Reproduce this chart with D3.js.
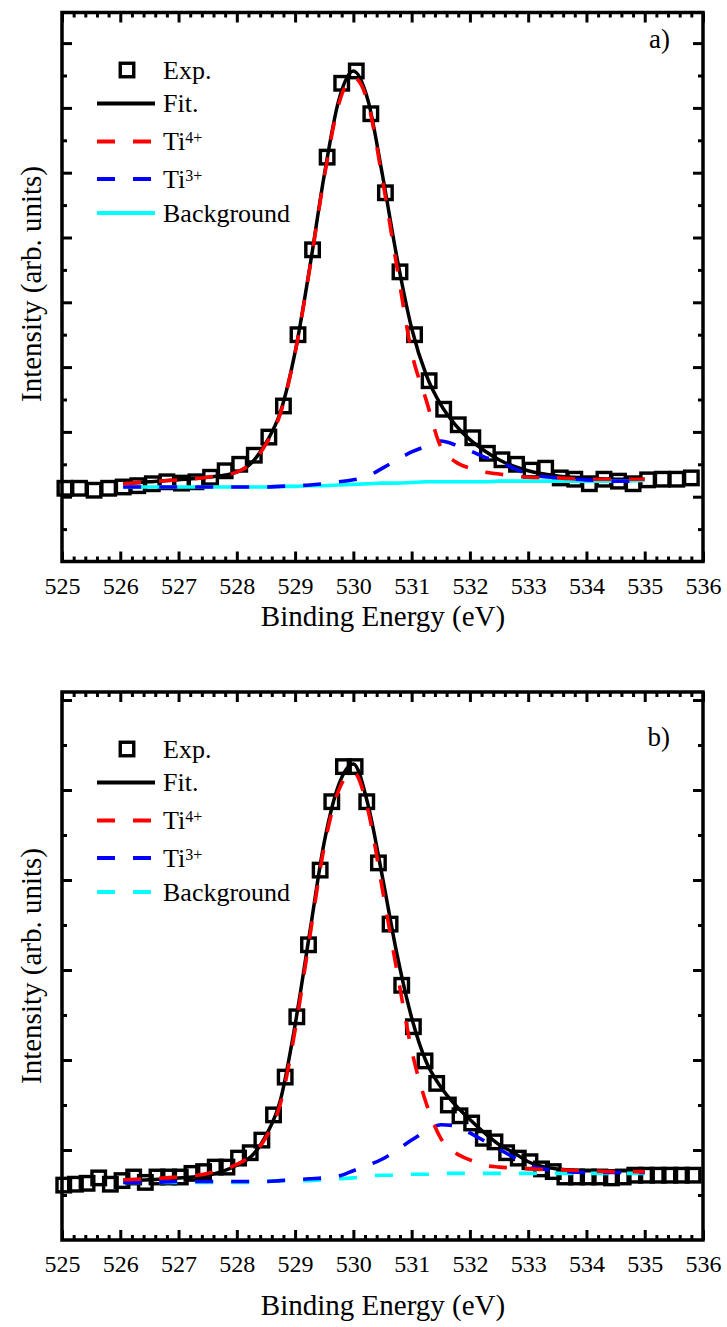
<!DOCTYPE html>
<meta charset="utf-8">
<style>
    body { margin: 0; background: #fff; }
    svg text { font-family: "Liberation Serif", "DejaVu Serif", serif; fill: #000; }
</style>
<svg width="727" height="1327"></svg>
<script src="https://d3js.org/d3.v7.min.js"></script>
<script>

    // x ticks (binding energy, eV)
    var xTicks = [525, 526, 527, 528, 529, 530, 531, 532, 533, 534, 535, 536];

    // panel a) experimental points
    var expEa = [525.05, 525.30, 525.55, 525.80, 526.05, 526.30, 526.55, 526.80, 527.05, 527.30,
        527.55, 527.80, 528.05, 528.30, 528.55, 528.80, 529.05, 529.30, 529.55, 529.80,
        530.05, 530.30, 530.55, 530.80, 531.05, 531.30, 531.55, 531.80, 532.05, 532.30,
        532.55, 532.80, 533.05, 533.30, 533.55, 533.80, 534.05, 534.30, 534.55, 534.80,
        535.05, 535.30, 535.55, 535.80];
    var expIa = [1.13, 1.13, 1.10, 1.13, 1.15, 1.17, 1.20, 1.23, 1.21, 1.23,
        1.30, 1.40, 1.50, 1.64, 1.92, 2.40, 3.50, 4.81, 6.24, 7.38,
        7.57, 6.91, 5.69, 4.47, 3.50, 2.79, 2.35, 2.11, 1.91, 1.67,
        1.57, 1.50, 1.41, 1.44, 1.29, 1.27, 1.20, 1.27, 1.24, 1.20,
        1.26, 1.27, 1.27, 1.29];

    var fitE = [526.05, 526.5, 527, 527.5, 528, 528.25, 528.5, 528.75, 529, 529.25,
        529.5, 529.75, 530, 530.25, 530.5, 530.75, 531, 531.25, 531.5, 531.75,
        532, 532.25, 532.5, 532.75, 533, 533.5, 534, 534.5, 535];

    // panel a) fit and components
    var fitA = [1.20, 1.23, 1.26, 1.30, 1.38, 1.52, 1.83, 2.31, 3.23, 4.53,
        5.96, 7.12, 7.57, 7.12, 5.96, 4.68, 3.60, 2.88, 2.42, 2.11,
        1.88, 1.71, 1.57, 1.47, 1.40, 1.32, 1.29, 1.27, 1.27];
    var ti4A = [1.20, 1.23, 1.26, 1.30, 1.38, 1.52, 1.81, 2.29, 3.22, 4.51,
        5.93, 7.06, 7.47, 7.08, 5.89, 4.53, 3.23, 2.49, 1.77, 1.54,
        1.44, 1.38, 1.35, 1.32, 1.30, 1.29, 1.27, 1.27, 1.27];
    var ti3A = [1.15, 1.15, 1.15, 1.15, 1.15, 1.15, 1.15, 1.16, 1.17, 1.18,
        1.20, 1.23, 1.26, 1.32, 1.44, 1.57, 1.69, 1.78, 1.86, 1.80,
        1.71, 1.61, 1.54, 1.44, 1.35, 1.29, 1.26, 1.24, 1.24];
    var bgA = [1.15, 1.15, 1.15, 1.15, 1.15, 1.15, 1.15, 1.16, 1.16, 1.17,
        1.17, 1.18, 1.19, 1.20, 1.21, 1.21, 1.22, 1.23, 1.23, 1.23,
        1.23, 1.23, 1.24, 1.24, 1.24, 1.24, 1.24, 1.24, 1.25];

    // panel b) experimental points
    var expEb = [525.03, 525.23, 525.43, 525.63, 525.83, 526.03, 526.23, 526.43, 526.63, 526.83,
        527.03, 527.23, 527.43, 527.63, 527.83, 528.03, 528.23, 528.43, 528.63, 528.83,
        529.03, 529.23, 529.43, 529.63, 529.83, 530.03, 530.23, 530.43, 530.63, 530.83,
        531.03, 531.23, 531.43, 531.63, 531.83, 532.03, 532.23, 532.43, 532.63, 532.83,
        533.03, 533.23, 533.43, 533.63, 533.83, 534.03, 534.23, 534.43, 534.63, 534.83,
        535.03, 535.23, 535.43, 535.63, 535.83];
    var expIb = [0.61, 0.62, 0.63, 0.69, 0.62, 0.66, 0.70, 0.64, 0.70, 0.70,
        0.70, 0.74, 0.76, 0.81, 0.81, 0.91, 0.97, 1.11, 1.39, 1.81,
        2.48, 3.28, 4.11, 4.87, 5.26, 5.26, 4.87, 4.19, 3.51, 2.83,
        2.37, 1.99, 1.74, 1.50, 1.38, 1.30, 1.13, 1.09, 0.97, 0.91,
        0.87, 0.79, 0.76, 0.70, 0.70, 0.70, 0.70, 0.69, 0.70, 0.72,
        0.72, 0.72, 0.72, 0.72, 0.72];

    // panel b) fit and components
    var fitB = [0.66, 0.67, 0.69, 0.72, 0.83, 0.93, 1.16, 1.56, 2.39, 3.41,
        4.42, 5.06, 5.29, 4.84, 4.03, 3.17, 2.47, 1.98, 1.70, 1.50,
        1.34, 1.19, 1.06, 0.97, 0.87, 0.79, 0.77, 0.77, 0.77];
    var ti4B = [0.67, 0.68, 0.70, 0.74, 0.84, 0.94, 1.14, 1.52, 2.33, 3.36,
        4.37, 5.00, 5.20, 4.78, 3.89, 2.98, 2.11, 1.52, 1.13, 0.97,
        0.89, 0.83, 0.81, 0.80, 0.79, 0.78, 0.77, 0.76, 0.76];
    var ti3B = [0.64, 0.64, 0.65, 0.65, 0.65, 0.65, 0.65, 0.66, 0.67, 0.68,
        0.69, 0.71, 0.77, 0.83, 0.90, 1.00, 1.11, 1.21, 1.28, 1.27,
        1.19, 1.10, 1.01, 0.92, 0.83, 0.77, 0.75, 0.75, 0.75];
    var bgB = [0.64, 0.64, 0.64, 0.64, 0.64, 0.64, 0.65, 0.66, 0.66, 0.66,
        0.67, 0.68, 0.69, 0.71, 0.72, 0.72, 0.73, 0.73, 0.74, 0.74,
        0.74, 0.74, 0.74, 0.74, 0.74, 0.74, 0.74, 0.74, 0.74];

    var legendNames = ["Exp.", "Fit.", "Ti", "Ti", "Background"];
    var legendSup = ["", "", "4+", "3+", ""];

    var FONT = "'Liberation Serif', 'DejaVu Serif', serif";
    var DASH = "18,18";

    var svg = d3.select("svg");
    var x = d3.scaleLinear().domain([525, 536]).range([62, 703]);
    var xMinor = d3.range(525, 536.001, 0.2).filter(function (d) { return Math.abs(d - Math.round(d)) > 0.01; });

    var panels = [
        { tag: "a)", top: 12.5, bottom: 561.5, unit: 64.8, expE: expEa, expI: expIa,
          fit: fitA, ti4: ti4A, ti3: ti3A, bg: bgA, bgDash: false,
          legendY: 70, tagY: 48, titleY: 626, labelY: 284 },
        { tag: "b)", top: 692, bottom: 1240, unit: 90, expE: expEb, expI: expIb,
          fit: fitB, ti4: ti4B, ti3: ti3B, bg: bgB, bgDash: true,
          legendY: 749, tagY: 746, titleY: 1315, labelY: 966 }
    ];

    function styleAxis(g) {
        g.select(".domain").remove();
        g.selectAll(".tick line").attr("stroke", "#000").attr("stroke-width", 3);
        g.attr("font-size", 24).attr("font-family", FONT);
        g.selectAll("text").attr("font-family", FONT);
    }

    function label(g, txt, size) {
        return g.append("text").attr("font-family", FONT).attr("font-size", size).text(txt);
    }

    function drawPanel(p) {
        var yMax = (p.bottom - p.top) / p.unit;
        var y = d3.scaleLinear().domain([0, yMax]).range([p.bottom, p.top]);
        var yMajor = d3.range(1, yMax, 1);
        var yMinorT = d3.range(0.5, yMax, 1);
        var g = svg.append("g");

        // ticks, all pointing inwards
        g.append("g").attr("transform", "translate(0," + p.bottom + ")")
            .call(d3.axisBottom(x).tickValues(xTicks).tickFormat(d3.format("d"))
                .tickSizeInner(-10).tickSizeOuter(0).tickPadding(15))
            .call(styleAxis);
        g.append("g").attr("transform", "translate(0," + p.bottom + ")")
            .call(d3.axisBottom(x).tickValues(xMinor).tickFormat("").tickSizeInner(-5).tickSizeOuter(0))
            .call(styleAxis);
        g.append("g").attr("transform", "translate(0," + p.top + ")")
            .call(d3.axisTop(x).tickValues(xTicks).tickFormat("").tickSizeInner(-10).tickSizeOuter(0))
            .call(styleAxis);
        g.append("g").attr("transform", "translate(0," + p.top + ")")
            .call(d3.axisTop(x).tickValues(xMinor).tickFormat("").tickSizeInner(-5).tickSizeOuter(0))
            .call(styleAxis);
        [[d3.axisLeft, x(525)], [d3.axisRight, x(536)]].forEach(function (a) {
            g.append("g").attr("transform", "translate(" + a[1] + ",0)")
                .call(a[0](y).tickValues(yMajor).tickFormat("").tickSizeInner(-10).tickSizeOuter(0))
                .call(styleAxis);
            g.append("g").attr("transform", "translate(" + a[1] + ",0)")
                .call(a[0](y).tickValues(yMinorT).tickFormat("").tickSizeInner(-5).tickSizeOuter(0))
                .call(styleAxis);
        });

        // experimental squares
        var s = 13.5;
        g.append("g").selectAll("rect")
            .data(p.expE.map(function (e, i) { return [e, p.expI[i]]; }))
            .enter().append("rect")
            .attr("x", function (d) { return x(d[0]) - s / 2; })
            .attr("y", function (d) { return y(d[1]) - s / 2; })
            .attr("width", s).attr("height", s)
            .attr("fill", "none").attr("stroke", "#000").attr("stroke-width", 3.4);

        var line = d3.line()
            .x(function (d) { return x(d[0]); })
            .y(function (d) { return y(d[1]); })
            .curve(d3.curveMonotoneX);
        function pts(arr) { return fitE.map(function (e, i) { return [e, arr[i]]; }); }

        g.append("path").attr("d", line(pts(p.fit)))
            .attr("fill", "none").attr("stroke", "#000").attr("stroke-width", 3.5);
        g.append("path").attr("d", line(pts(p.bg)))
            .attr("fill", "none").attr("stroke", "#00ffff").attr("stroke-width", 3.6)
            .attr("stroke-dasharray", p.bgDash ? DASH : null);
        g.append("path").attr("d", line(pts(p.ti3)))
            .attr("fill", "none").attr("stroke", "#0000ff").attr("stroke-width", 3.6)
            .attr("stroke-dasharray", DASH);
        g.append("path").attr("d", line(pts(p.ti4)))
            .attr("fill", "none").attr("stroke", "#ff0000").attr("stroke-width", 3.6)
            .attr("stroke-dasharray", DASH);

        // frame
        g.append("rect")
            .attr("x", x(525)).attr("y", p.top)
            .attr("width", x(536) - x(525)).attr("height", p.bottom - p.top)
            .attr("fill", "none").attr("stroke", "#000").attr("stroke-width", 3.5);

        // legend
        var rows = [0, 33.5, 71.5, 109, 143];
        var styles = [
            null,
            { c: "#000", dash: null },
            { c: "#ff0000", dash: DASH },
            { c: "#0000ff", dash: DASH },
            { c: "#00ffff", dash: p.bgDash ? DASH : null }
        ];
        var lg = g.append("g");
        rows.forEach(function (r, i) {
            var yy = p.legendY + r;
            if (i === 0) {
                lg.append("rect").attr("x", 127 - s / 2).attr("y", yy - s / 2)
                    .attr("width", s).attr("height", s)
                    .attr("fill", "none").attr("stroke", "#000").attr("stroke-width", 3.4);
            } else {
                lg.append("line").attr("x1", 97).attr("x2", 155).attr("y1", yy).attr("y2", yy)
                    .attr("stroke", styles[i].c).attr("stroke-width", 4)
                    .attr("stroke-dasharray", styles[i].dash);
            }
            var t = label(lg, legendNames[i], 26).attr("x", 163).attr("y", yy + 8.5);
            if (legendSup[i]) {
                t.append("tspan").attr("font-size", 16).attr("dy", -7).text(legendSup[i]);
            }
        });

        // panel tag
        label(g, p.tag, 27).attr("x", 670).attr("y", p.tagY).attr("text-anchor", "end");

        // axis titles
        label(g, "Binding Energy (eV)", 29).attr("x", 383).attr("y", p.titleY).attr("text-anchor", "middle");
        label(g, "Intensity (arb. units)", 29)
            .attr("transform", "translate(41," + p.labelY + ") rotate(-90)")
            .attr("text-anchor", "middle");
    }

    panels.forEach(drawPanel);

</script>
